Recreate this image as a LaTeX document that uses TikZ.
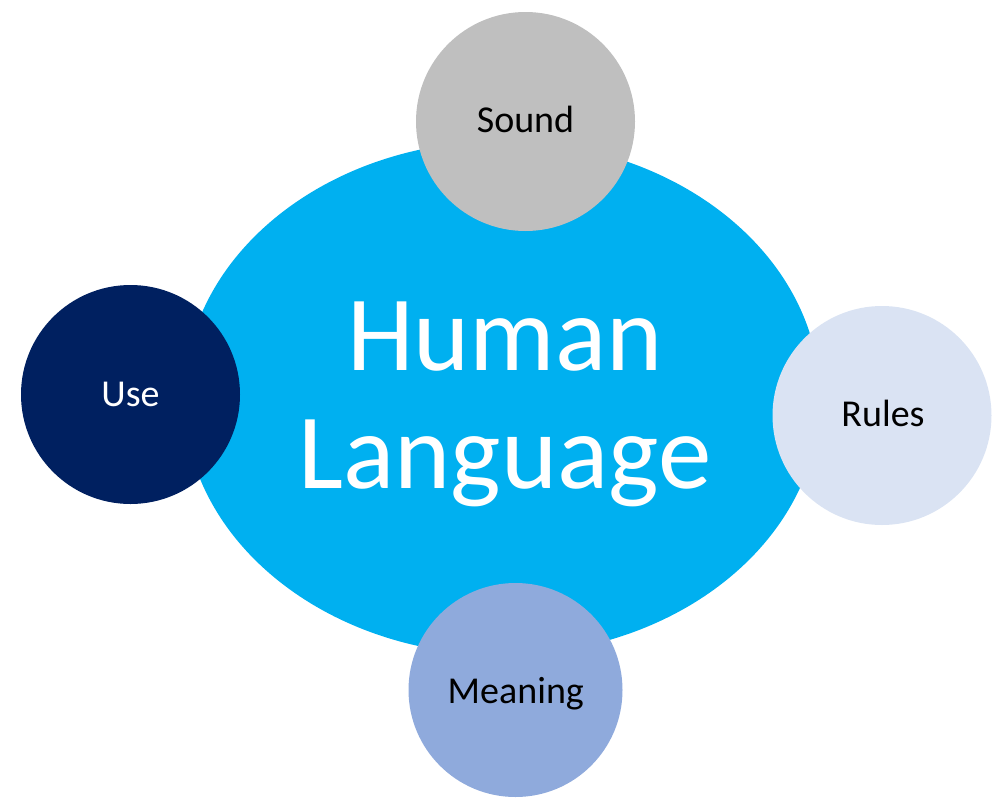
\documentclass[tikz,border=0pt]{standalone}
\usepackage{fontspec}
\setmainfont{Carlito}
\usetikzlibrary{shapes.geometric}
\definecolor{hlblue}{HTML}{00B0F0}
\definecolor{hgray}{HTML}{BFBFBF}
\definecolor{hnavy}{HTML}{002060}
\definecolor{hpale}{HTML}{DAE3F3}
\definecolor{hmid}{HTML}{8FAADC}
\tikzset{
  bubble/.style={circle, inner sep=0pt, minimum size=219pt, draw=none},
  smalltxt/.style={font=\fontsize{38}{44}\selectfont, anchor=base, inner sep=0pt},
}
\begin{document}
\begin{tikzpicture}[x=1pt,y=-1pt]
\useasboundingbox (0,0) rectangle (1004,798);
\node[ellipse, fill=hlblue, minimum width=636pt, minimum height=514pt, inner sep=0pt] (core) at (502,398) {};
\node[font=\fontsize{107}{118}\selectfont, text=white, align=center, anchor=base, inner sep=0pt] (title) at (505,488) {Human\\Language};
\node[bubble, fill=hgray] (sound) at (525.5,121.5) {};
\node[smalltxt] (soundtxt) at (525.5,132.3) {Sound};
\node[bubble, fill=hnavy] (use) at (130.5,394.5) {};
\node[smalltxt, text=white] (usetxt) at (130.5,406) {Use};
\node[bubble, fill=hpale] (rules) at (882,415.5) {};
\node[smalltxt] (rulestxt) at (883,426) {Rules};
\node[bubble, fill=hmid, minimum size=214pt] (meaning) at (515.5,690) {};
\node[smalltxt] (meaningtxt) at (515.8,703.3) {Meaning};
\end{tikzpicture}
\end{document}
